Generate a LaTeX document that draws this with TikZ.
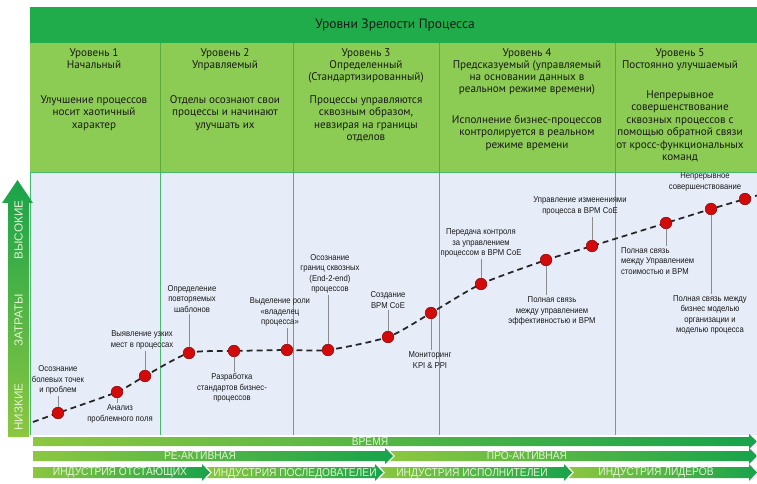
\documentclass[tikz,border=0pt]{standalone}
\usepackage{fontspec}
\setmainfont{PT Sans}
\newfontfamily\lblfont[FakeStretch=0.9]{Liberation Sans}
\newfontfamily\axfont{Liberation Sans}
\usetikzlibrary{positioning,calc}

\definecolor{ttlgreen}{RGB}{32,172,74}
\definecolor{lvgreen}{RGB}{141,204,84}
\definecolor{lvline}{RGB}{92,170,60}
\definecolor{plotbg}{RGB}{231,237,248}
\definecolor{gridgreen}{RGB}{70,185,110}
\definecolor{lightarr}{RGB}{140,199,64}
\definecolor{darkarr}{RGB}{24,163,75}
\definecolor{dotred}{RGB}{210,10,10}
\definecolor{bartext}{RGB}{226,244,208}

\begin{document}
\begin{tikzpicture}[
  x=0.03cm,y=-0.03cm,
  ttl/.style={font=\fontsize{11.5}{13}\selectfont, text=black!90, inner sep=0pt},
  lvtitle/.style={align=center, anchor=north, font=\fontsize{9.5}{10.4}\selectfont, text=black!90, inner sep=0pt},
  lvtext/.style={lvtitle, font=\fontsize{9.5}{10.7}\selectfont},
  lbl/.style={align=center, font=\lblfont\fontsize{7.3}{8.8}\selectfont, text=black!90, inner sep=1.5pt},
  dot/.style={circle, fill=dotred, draw=dotred!60!black, line width=0.4pt, minimum size=10pt, inner sep=0pt},
  pin/.style={draw=black!45, line width=0.5pt},
  trend/.style={black!85, line width=1.5pt, dash pattern=on 5pt off 3.5pt},
  bartxt/.style={text=bartext, font=\lblfont\fontsize{9.7}{10}\selectfont, inner sep=0pt},
  axtxt/.style={text=bartext, font=\axfont\fontsize{10}{11}\selectfont, inner sep=0pt, rotate=90}
]
\useasboundingbox (0,0) rectangle (757,484);

% header: title band and level columns
\fill[ttlgreen] (30,7) rectangle (757,43);
\fill[lvgreen] (30,43) rectangle (757,172);
\node[ttl] (title) at (395,25) {Уровни Зрелости Процесса};
\foreach \x in {160,293,439,615}{\draw[lvline, line width=0.6pt] (\x,43) -- (\x,172);}

\node[lvtitle] (t1) at (94,48) {Уровень 1\\Начальный};
\node[lvtitle] (t2) at (225,48) {Уровень 2\\Управляемый};
\node[lvtitle] (t3) at (366,48) {Уровень 3\\Определенный\\(Стандартизированный)};
\node[lvtitle] (t4) at (527,48) {Уровень 4\\Предсказуемый (управляемый\\на основании данных в\\реальном режиме времени)};
\node[lvtitle] (t5) at (680,48) {Уровень 5\\Постоянно улучшаемый};

\node[lvtext] (s1) at (94,95) {Улучшение процессов\\носит хаотичный\\характер};
\node[lvtext] (s2) at (225,95) {Отделы осознают свои\\процессы и начинают\\улучшать их};
\node[lvtext] (s3) at (366,95) {Процессы управляются\\сквозным образом,\\невзирая на границы\\отделов};
\node[lvtext] (s4) at (527,115) {Исполнение бизнес-процессов\\контролируется в реальном\\режиме времени};
\node[lvtext] (s5) at (680,90) {Непрерывное\\совершенствование\\сквозных процессов с\\помощью обратной связи\\от кросс-функциональных\\команд};

% plot area
\fill[plotbg] (30,172) rectangle (757,435);
\foreach \x in {160,293,439,615}{\draw[gridgreen, line width=0.6pt] (\x,172) -- (\x,435);}
\draw[gridgreen, line width=0.8pt] (757,172) -- (30,172) -- (30,435);

% cost axis
\shade[top color=darkarr, bottom color=lightarr] (8,437) -- (8,203) -- (2,203) -- (17.5,180) -- (33,203) -- (29,203) -- (29,437) -- cycle;
\node[axtxt] (high) at (18.5,230) {ВЫСОКИЕ};
\node[axtxt] (cost) at (18.5,320) {ЗАТРАТЫ};
\node[axtxt] (low) at (18.5,407) {НИЗКИЕ};

% maturity curve
\coordinate (p1) at (58,413);
\coordinate (p2) at (117,392);
\coordinate (p3) at (145,376);
\coordinate (p4) at (189,353);
\coordinate (p5) at (234,351);
\coordinate (p6) at (287,350);
\coordinate (p7) at (328,350);
\coordinate (p8) at (388,337);
\coordinate (p9) at (431,313);
\coordinate (p10) at (481,284);
\coordinate (p11) at (546,260);
\coordinate (p12) at (592,246);
\coordinate (p13) at (666,223);
\coordinate (p14) at (711,209);
\coordinate (p15) at (745,199);
\draw[trend] plot[smooth, tension=0.4] coordinates {(33,422) (p1) (p2) (p3) (p4) (p5) (p6) (p7) (p8) (p9) (p10) (p11) (p12) (p13) (p14) (p15) (757,195.5)};
\foreach \i in {1,...,15}{\node[dot] (d\i) at (p\i) {};}

% milestones
\node[lbl] (l1) at (58,380) {Осознание\\болевых точек\\и проблем};
\node[lbl] (l2) at (120,414) {Анализ\\проблемного поля};
\node[lbl] (l3) at (142,340) {Выявление узких\\мест в процессах};
\node[lbl] (l4) at (192,299) {Определение\\повторяемых\\шаблонов};
\node[lbl] (l5) at (232,388) {Разработка\\стандартов бизнес-\\процессов};
\node[lbl] (l6) at (280,312) {Выделение роли\\«владелец\\процесса»};
\node[lbl] (l7) at (330,274) {Осознание\\границ сквозных\\(End-2-end)\\процессов};
\node[lbl] (l8) at (388,300) {Создание\\BPM CoE};
\node[lbl] (l9) at (430,360) {Мониторинг\\KPI \& PPI};
\node[lbl] (l10) at (481,243) {Передача контроля\\за управлением\\процессом в BPM CoE};
\node[lbl] (l11) at (552,311) {Полная связь\\между управлением\\эффективностью и BPM};
\node[lbl] (l12) at (580,206) {Управление изменениями\\процесса в BPM CoE};
\node[lbl, align=left, anchor=west] (l13) at (619,261) {Полная связь\\между Управлением\\стоимостью и BPM};
\node[lbl] (l14) at (710,315) {Полная связь между\\бизнес моделью\\организации и\\моделью процесса};
\node[lbl] (l15) at (705,182) {Непрерывное\\совершенствование};
\foreach \i/\a/\b in {1/north/south,3/north/south,4/north/south,6/north/south,7/north/south,8/north/south,10/north/south,12/north/south,
                      2/south/north,5/south/north,9/south/north,11/south/north,13/south/north,14/south/north}{
  \draw[pin] (d\i.\a) -- (d\i |- l\i.\b);
}

% time axis and phases
\shade[left color=lightarr, right color=darkarr] (33,437) -- (749,437) -- (749,434) -- (757,441.5) -- (749,449) -- (749,446) -- (33,446) -- cycle;
\node[bartxt] (time) at (370,441.5) {ВРЕМЯ};
\foreach \xa/\xb/\nd/\tx/\txt [count=\i] in {33/393/0/200/РЕ-АКТИВНАЯ,390/757/5/527/ПРО-АКТИВНАЯ}{
  \shade[left color=lightarr, right color=darkarr] (\xa,451) -- ({\xb-8},451) -- ({\xb-8},448) -- (\xb,456) -- ({\xb-8},464) -- ({\xb-8},461) -- (\xa,461) -- ({\xa+\nd},456) -- cycle;
  \node[bartxt] (mode\i) at (\tx,456) {\txt};
}
\foreach \xa/\xb/\nd/\tx/\txt [count=\i] in {33/210/0/120/ИНДУСТРИЯ ОТСТАЮЩИХ,207/383/5/295/ИНДУСТРИЯ ПОСЛЕДОВАТЕЛЕЙ,380/572/5/472/ИНДУСТРИЯ ИСПОЛНИТЕЛЕЙ,569/757/5/656/ИНДУСТРИЯ ЛИДЕРОВ}{
  \shade[left color=lightarr, right color=darkarr] (\xa,467) -- ({\xb-8},467) -- ({\xb-8},464) -- (\xb,472.5) -- ({\xb-8},481) -- ({\xb-8},478) -- (\xa,478) -- ({\xa+\nd},472.5) -- cycle;
  \node[bartxt] (ind\i) at (\tx,472.5) {\txt};
}
\end{tikzpicture}
\end{document}
